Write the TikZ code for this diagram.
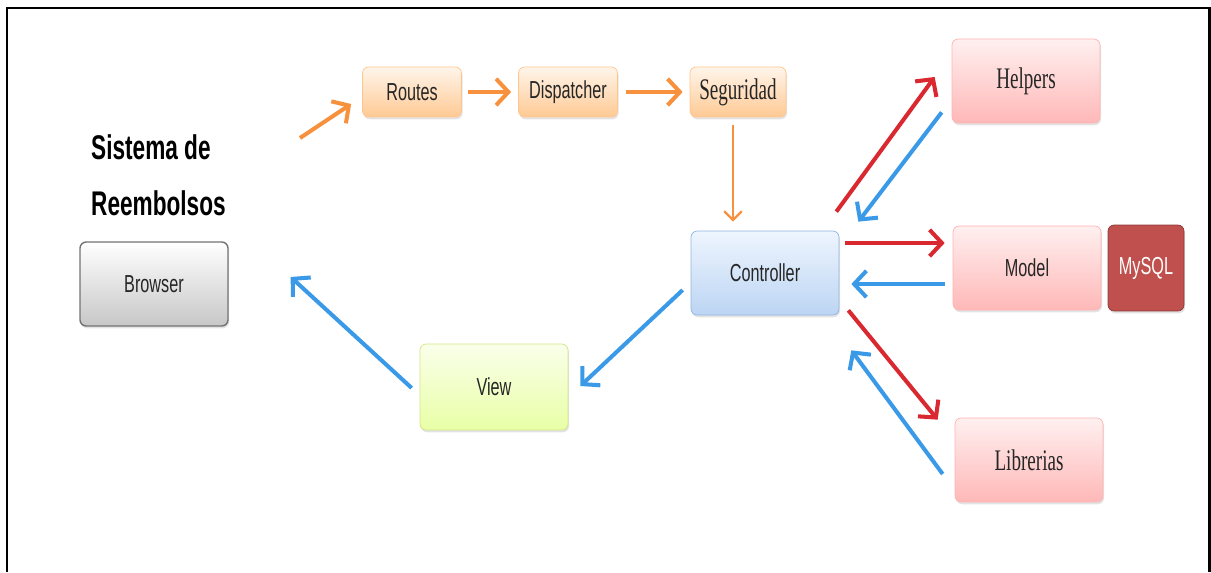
\documentclass[tikz,border=0pt]{standalone}
\usepackage{fontspec}
\setmainfont{Liberation Sans}[FakeStretch=0.66]
\newfontfamily\serifnarrow{Liberation Serif}[FakeStretch=0.64]
\usetikzlibrary{arrows.meta,shadows}

\definecolor{naranjaFlecha}{HTML}{F7913D}
\definecolor{rojoFlecha}{HTML}{D9282F}
\definecolor{azulFlecha}{HTML}{3B9AE8}
\definecolor{azulClaro}{HTML}{EEF5FE}
\definecolor{azulBase}{HTML}{BCD5F3}
\definecolor{azulBorde}{HTML}{8EB4E3}
\definecolor{rojoMysql}{HTML}{C0504D}
\definecolor{rojoBorde}{HTML}{8C3836}

\begin{document}
\begin{tikzpicture}[x=0.02cm,y=-0.02cm,
  caja/.style={rounded corners=3.5pt, align=center, text=black!85, inner sep=1pt,
    font=\fontsize{14}{16}\selectfont,
    drop shadow={opacity=.22, shadow xshift=.6pt, shadow yshift=-1.3pt}},
  grande/.style={caja, minimum width=2.96cm, minimum height=1.68cm},
  chica/.style={caja, minimum width=1.98cm, minimum height=1cm},
  gris/.style={draw=black!55, line width=.8pt, top color=white, bottom color=black!22},
  naranja/.style={draw=orange!45, top color=orange!8, bottom color=orange!42},
  azul/.style={draw=azulBorde, top color=azulClaro, bottom color=azulBase},
  verde/.style={draw=lime!60!olive!50, top color=lime!8, bottom color=lime!35},
  rosa/.style={draw=red!30, top color=red!6, bottom color=red!28},
  serifa/.style={font=\serifnarrow\fontsize{17}{19}\selectfont},
  flecha/.style={line width=2.3pt, -{Straight Barb[length=7pt,width=15pt]}},
  flechafina/.style={line width=1.3pt, -{Straight Barb[length=5pt,width=10pt]}}
]
\useasboundingbox (0,0) rectangle (1211,572);
\draw[line width=1.7pt] (7,572) -- (7,8) -- (1209,8) -- (1209,572);

\node[anchor=west, font=\bfseries\fontsize{19.5}{22}\selectfont] (titulo1) at (85,147) {Sistema de};
\node[anchor=west, font=\bfseries\fontsize{19.5}{22}\selectfont] (titulo2) at (85,203) {Reembolsos};

\node[grande, gris] (browser) at (154,284) {Browser};
\node[chica, naranja] (routes) at (412,92) {Routes};
\node[chica, naranja] (dispatcher) at (568,92) {Dispatcher};
\node[chica, naranja, serifa, minimum width=1.92cm] (seguridad) at (738,92) {Seguridad};
\node[grande, azul] (controller) at (765,273) {Controller};
\node[grande, verde, minimum height=1.72cm] (view) at (494,387) {View};
\node[grande, rosa, serifa] (helpers) at (1026,81) {Helpers};
\node[grande, rosa] (model) at (1027,268) {Model};
\node[caja, draw=rojoBorde, fill=rojoMysql, text=white, minimum width=1.52cm, minimum height=1.72cm] (mysql) at (1146,268) {MySQL};
\node[grande, rosa, serifa] (librerias) at (1029,460) {Librerias};

\coordinate (entrada) at (300,138);
\draw[flecha, naranjaFlecha] (entrada) -- ([shift={(-11,12)}]routes.west);
\draw[flecha, naranjaFlecha] ([shift={(6,0)}]routes.east) -- ([shift={(-7,0)}]dispatcher.west);
\draw[flecha, naranjaFlecha] ([shift={(8,0)}]dispatcher.east) -- ([shift={(-7,0)}]seguridad.west);
\draw[flechafina, naranjaFlecha] ([shift={(-5,8)}]seguridad.south) -- ([shift={(-32,-9)}]controller.north);

\draw[flecha, rojoFlecha] ([shift={(-3,-19)}]controller.north east) -- ([shift={(-17,-4)}]helpers.west);
\draw[flecha, azulFlecha] ([shift={(-10,-11)}]helpers.south west) -- ([shift={(19,-9)}]controller.north east);
\draw[flecha, rojoFlecha] ([shift={(6,-30)}]controller.east) -- ([shift={(-8,-25)}]model.west);
\draw[flecha, azulFlecha] ([shift={(-8,16)}]model.west) -- ([shift={(12,11)}]controller.east);
\draw[flecha, rojoFlecha] ([shift={(9,-5)}]controller.south east) -- ([shift={(-17,2)}]librerias.north west);
\draw[flecha, azulFlecha] ([shift={(-12,14)}]librerias.west) -- ([shift={(12,35)}]controller.south east);
\draw[flecha, azulFlecha] ([shift={(-8,17)}]controller.west) -- ([shift={(12,-1)}]view.east);
\draw[flecha, azulFlecha] ([shift={(-8,1)}]view.west) -- ([shift={(62,-7)}]browser.east);
\end{tikzpicture}
\end{document}
